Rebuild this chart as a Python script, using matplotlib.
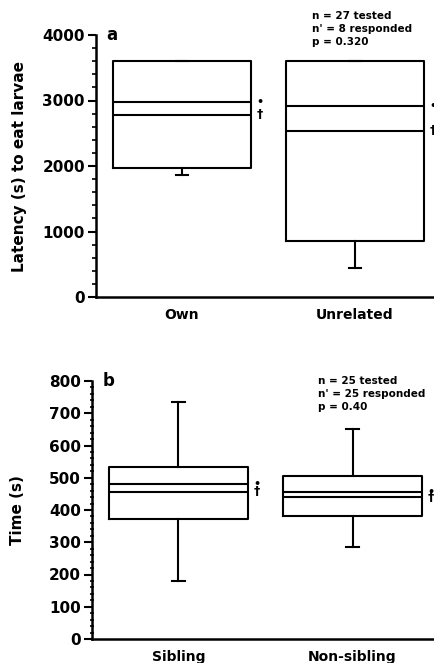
import matplotlib
matplotlib.use("Agg")
import matplotlib.pyplot as plt
from matplotlib.ticker import MultipleLocator

plt.rcParams['font.family'] = ['DejaVu Sans']

# Panel a data
cats_a = ["Own", "Unrelated"]
q1_a = [1970, 860]
q3_a = [3600, 3600]
upper_line_a = [2980, 2915]   # marked with •
lower_line_a = [2780, 2535]   # marked with †
whislo_a = [1860, 450]
whishi_a = [3600, 3600]
ann_a = "n = 27 tested\nn' = 8 responded\np = 0.320"

# Panel b data
cats_b = ["Sibling", "Non-sibling"]
q1_b = [372, 381]
q3_b = [532, 506]
upper_line_b = [480, 455]
lower_line_b = [457, 439]
whislo_b = [181, 286]
whishi_b = [734, 650]
ann_b = "n = 25 tested\nn' = 25 responded\np = 0.40"

fig = plt.figure(figsize=(4.35, 6.63), dpi=100)

def panel(rect, cats, q1, q3, up, lo, wlo, whi, ymax, major, minor, ylabel,
          letter, ann, ann_xy, minor_dir, xlim):
    ax = fig.add_axes(rect)
    stats = []
    for i in range(len(cats)):
        stats.append(dict(med=lo[i], q1=q1[i], q3=q3[i], whislo=wlo[i],
                          whishi=whi[i], mean=up[i], label=cats[i]))
    pos = list(range(1, len(cats) + 1))
    lw = 1.5
    ax.bxp(stats, positions=pos, widths=0.8, showfliers=False,
           showmeans=True, meanline=True,
           boxprops=dict(color='black', linewidth=lw),
           medianprops=dict(color='black', linewidth=lw),
           meanprops=dict(color='black', linewidth=lw, linestyle='-'),
           whiskerprops=dict(color='black', linewidth=lw),
           capprops=dict(color='black', linewidth=lw),
           capwidths=0.07)
    for i, p in enumerate(pos):
        ax.text(p + 0.43, up[i], "\u2022", ha='left', va='center',
                fontsize=8, fontweight='bold', clip_on=False)
        ax.text(p + 0.43, lo[i], "\u2020", ha='left', va='center',
                fontsize=9, fontweight='bold', clip_on=False)
    ax.set_xlim(*xlim)
    ax.set_ylim(0, ymax)
    ax.yaxis.set_major_locator(MultipleLocator(major))
    ax.yaxis.set_minor_locator(MultipleLocator(minor))
    ax.tick_params(axis='y', which='major', direction='out', length=6,
                   width=1.5, labelsize=11, pad=2)
    ax.tick_params(axis='y', which='minor', direction=minor_dir, length=3,
                   width=1.2)
    ax.tick_params(axis='x', which='both', length=0, labelsize=10, pad=8)
    ax.set_xticks(pos)
    ax.set_xticklabels(cats, fontweight='bold')
    for l in ax.get_yticklabels():
        l.set_fontweight('bold')
    for s in ['top', 'right']:
        ax.spines[s].set_visible(False)
    for s in ['left', 'bottom']:
        ax.spines[s].set_linewidth(1.8)
    ax.set_ylabel(ylabel, fontsize=11, fontweight='bold')
    ax.text(0.03, 1.0, letter, transform=ax.transAxes, fontsize=12,
            fontweight='bold', ha='left', va='center')
    fig.text(ann_xy[0], ann_xy[1], ann, fontsize=7.5, fontweight='bold',
             ha='left', va='top', linespacing=1.35)
    return ax

ax_a = panel([96/435, 1-297/663, 1-96/435, (297-35)/663], cats_a, q1_a, q3_a,
             upper_line_a, lower_line_a, whislo_a, whishi_a, 4000, 1000, 200,
             "Latency (s) to eat larvae", "a", ann_a, (312/435, 1-11/663),
             'out', (0.503, 2.462))
ax_a.yaxis.set_label_coords(-0.204, 0.5)

ax_b = panel([92/435, 1-639/663, 1-92/435, (639-381)/663], cats_b, q1_b, q3_b,
             upper_line_b, lower_line_b, whislo_b, whishi_b, 800, 100, 20,
             "Time (s)", "b", ann_b, (318/435, 1-376/663),
             'inout', (0.503, 2.474))
ax_b.yaxis.set_label_coords(-0.195, 0.5)

fig.savefig("out.png", dpi=100)
